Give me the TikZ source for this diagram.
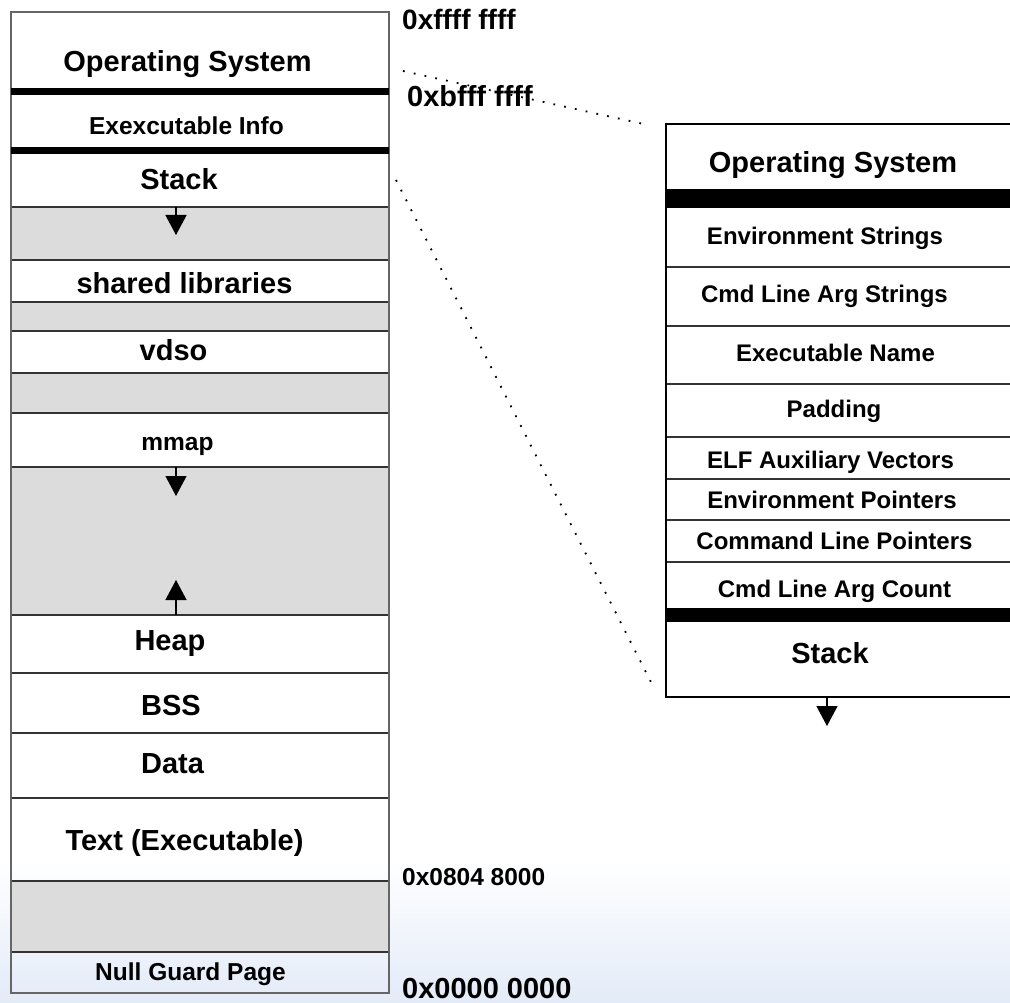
\documentclass[tikz,border=0pt]{standalone}
\usepackage{fontspec}
\setmainfont{Liberation Sans}
\usetikzlibrary{arrows.meta}
\definecolor{holegray}{HTML}{DCDCDC}
\definecolor{pageblue}{HTML}{E3EBF8}
\tikzset{
    seg/.style={inner sep=0pt,anchor=base,font=\fontsize{29}{29}\selectfont\bfseries},
    segsmall/.style={seg,font=\fontsize{24.5}{24.5}\selectfont\bfseries},
    segright/.style={seg,font=\fontsize{24}{24}\selectfont\bfseries},
    addr/.style={inner sep=0pt,anchor=base west,font=\fontsize{28}{28}\selectfont\bfseries},
    growarrow/.style={line width=1.3pt,-{Triangle[width=21pt,length=20pt]}},
    zoomline/.style={line width=1.8pt,dash pattern=on 1.8pt off 9.2pt}
}
\begin{document}
\begin{tikzpicture}[x=1pt,y=-1pt]
        \useasboundingbox (0,0) rectangle (1010,1003);
        %%%%%%% Sfondo %%%%%%%%
        \shade[top color=white,bottom color=pageblue] (0,860) rectangle (1010,1003);

        %%%%%%% Colonna sinistra %%%%%%%%
        \foreach \a/\b in {207/260,302/331,373/413,467/615,881/952}
            \fill[holegray] (11,\a) rectangle (389,\b);
        \foreach \y in {207,260,302,331,373,413,467,615,673,733,798,881,952}
            \draw[line width=1.3pt,black!80] (11,\y) -- (389,\y);
        \draw[line width=1.2pt,black!60] (11,12) rectangle (389,993);
        \draw[line width=7pt] (11,91.5) -- (389,91.5);
        \draw[line width=7pt] (11,150.5) -- (389,150.5);

        %%%%%%% Testo sinistra %%%%%%%%
        \node[seg] (os) at (187.5,72) {Operating System};
        \node[segsmall] (info) at (186.5,135) {Exexcutable Info};
        \node[seg] (stack) at (179,190) {Stack};
        \node[seg] (shlib) at (184.5,294) {shared libraries};
        \node[seg] (vdso) at (173.5,360) {vdso};
        \node[segsmall] (mmap) at (177.5,450) {mmap};
        \node[seg] (heap) at (170,650) {Heap};
        \node[seg] (bss) at (171,715) {BSS};
        \node[seg] (data) at (172.5,773) {Data};
        \node[seg] (text) at (184.5,850) {Text (Executable)};
        \node[segsmall] (null) at (190.5,980) {Null Guard Page};

        %%%%%%% Frecce sinistra %%%%%%%%
        \coordinate (stack-end) at (176,207);
        \coordinate (stack-tip) at (176,235);
        \coordinate (mmap-end) at (176,467);
        \coordinate (mmap-tip) at (176,496);
        \coordinate (heap-end) at (176,615);
        \coordinate (heap-tip) at (176,580);
        \draw[growarrow] (stack-end) -- (stack-tip);
        \draw[growarrow] (mmap-end) -- (mmap-tip);
        \draw[growarrow] (heap-end) -- (heap-tip);

        %%%%%%% Indirizzi %%%%%%%%
        \node[addr] (top) at (402,30) {0xffff ffff};
        \node[addr,font=\fontsize{29}{29}\selectfont\bfseries] (kernel) at (407,107) {0xbfff ffff};
        \node[addr,font=\fontsize{24.5}{24.5}\selectfont\bfseries] (textstart) at (402,885) {0x0804 8000};
        \node[addr,font=\fontsize{29}{29}\selectfont\bfseries] (zero) at (402,998) {0x0000 0000};

        %%%%%%% Colonna destra %%%%%%%%
        \fill (666,189) rectangle (1013,208);
        \fill (666,608) rectangle (1013,622);
        \foreach \y in {267,326,384,437,479,520,562}
            \draw[line width=1.8pt,black!80] (666,\y) -- (1013,\y);
        \draw[line width=2.2pt] (666,124) rectangle (1013,697);

        %%%%%%% Testo destra %%%%%%%%
        \node[seg] (ros) at (833,173) {Operating System};
        \node[segright] (envs) at (825,245) {Environment Strings};
        \node[segright] (args) at (824.5,303) {Cmd Line Arg Strings};
        \node[segright] (exe) at (835.5,361) {Executable Name};
        \node[segright] (pad) at (834,417) {Padding};
        \node[segright] (aux) at (830.5,468) {ELF Auxiliary Vectors};
        \node[segright] (envp) at (832,508) {Environment Pointers};
        \node[segright] (argv) at (834.5,549) {Command Line Pointers};
        \node[segright] (argc) at (834.5,597) {Cmd Line Arg Count};
        \node[seg] (rstack) at (830,663) {Stack};

        \coordinate (rstack-end) at (827,697);
        \coordinate (rstack-tip) at (827,726);
        \draw[growarrow] (rstack-end) -- (rstack-tip);

        %%%%%%% Linee di zoom %%%%%%%%
        \coordinate (zoom1a) at (403,71);
        \coordinate (zoom1b) at (648,125);
        \coordinate (zoom2a) at (396,180);
        \coordinate (zoom2b) at (655,690);
        \draw[zoomline] (zoom1a) -- (zoom1b);
        \draw[zoomline] (zoom2a) -- (zoom2b);
\end{tikzpicture}
\end{document}
